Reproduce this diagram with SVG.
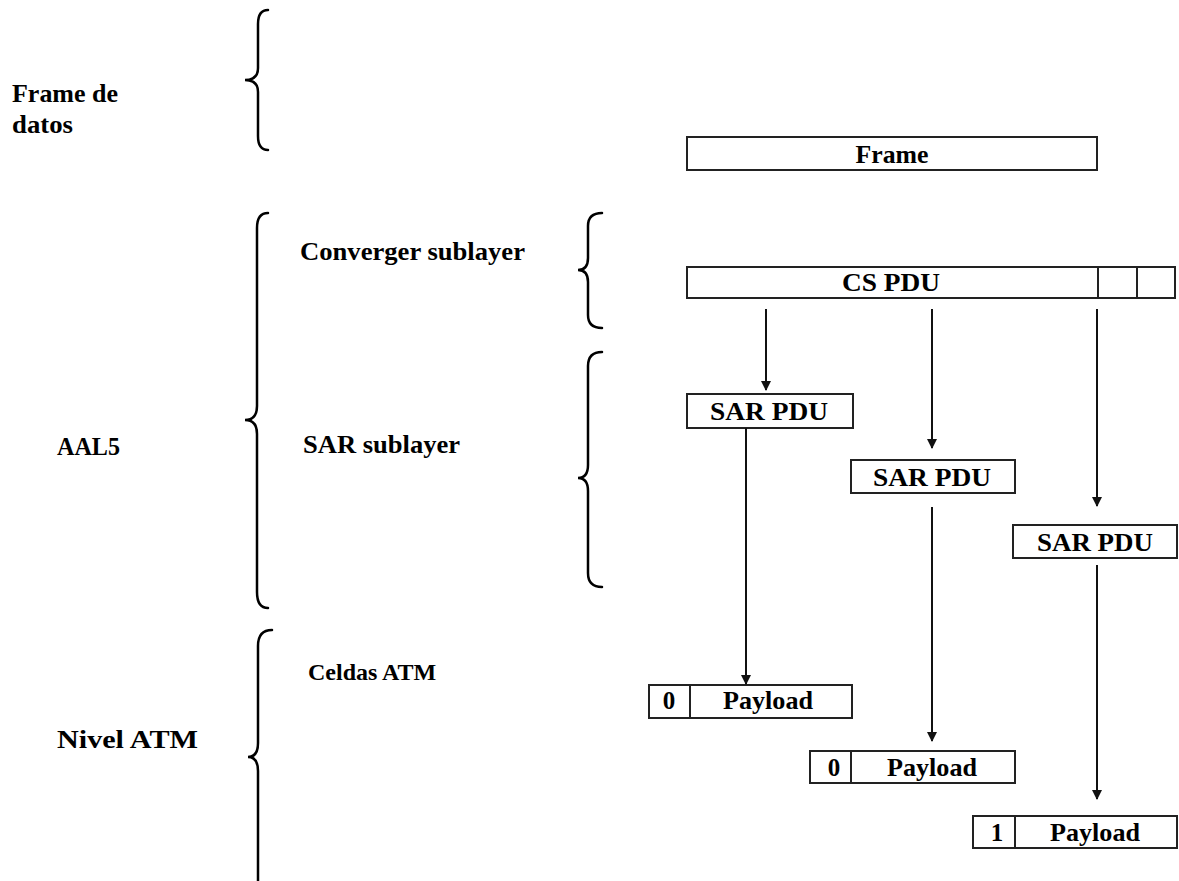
<svg xmlns="http://www.w3.org/2000/svg" width="1179" height="881" viewBox="0 0 1179 881">
<style>
text{font-family:"Liberation Serif","DejaVu Serif",serif;font-weight:bold;font-size:25px;fill:#000}
.box{fill:#fff;stroke:#222;stroke-width:2}
.div{stroke:#222;stroke-width:2}
.brace{fill:none;stroke:#000;stroke-width:2.5;stroke-linecap:round}
.conn{stroke:#111;stroke-width:2;fill:none;marker-end:url(#ah)}
</style>
<defs>
<marker id="ah" viewBox="0 0 10 10" refX="9" refY="5" markerWidth="5" markerHeight="5" orient="auto" markerUnits="strokeWidth">
<path d="M0,0 L10,5 L0,10 z" fill="#111"/>
</marker>
</defs>
<rect width="1179" height="881" fill="#fff"/>
<g id="labels">
<text x="12" y="102" textLength="106" lengthAdjust="spacingAndGlyphs">Frame de</text>
<text x="12" y="133" textLength="61" lengthAdjust="spacingAndGlyphs">datos</text>
<text x="300" y="260" textLength="225" lengthAdjust="spacingAndGlyphs">Converger sublayer</text>
<text x="303" y="453" textLength="157" lengthAdjust="spacingAndGlyphs">SAR sublayer</text>
<text x="57" y="455" textLength="63" lengthAdjust="spacingAndGlyphs">AAL5</text>
<text x="57" y="748" textLength="141" lengthAdjust="spacingAndGlyphs">Nivel  ATM</text>
<text x="308" y="680" style="font-size:24px">Celdas ATM</text>
</g>
<g id="braces">
<path class="brace" d="M268,10 Q258,10 258,24 L258,68 Q258,80 245,80 Q258,80 258,92 L258,136 Q258,150 268,150"/>
<path class="brace" d="M268,213 Q257,213 257,228 L257,406 Q257,420 245,420 Q257,420 257,434 L257,592 Q257,608 268,608"/>
<path class="brace" d="M272,630 Q258,630 258,646 L258,743 Q258,757 248,757 Q258,757 258,771 L258,882"/>
<path class="brace" d="M602,213 Q588,213 588,226 L588,258 Q588,270 578,270 Q588,270 588,282 L588,315 Q588,328 602,328"/>
<path class="brace" d="M602,352 Q588,352 588,366 L588,465 Q588,478 578,478 Q588,478 588,491 L588,573 Q588,587 602,587"/>
</g>
<g id="frame">
<rect class="box" x="687" y="137" width="410" height="33"/>
<text x="892" y="163" text-anchor="middle" textLength="73" lengthAdjust="spacingAndGlyphs">Frame</text>
</g>
<g id="cspdu">
<rect class="box" x="687" y="267" width="488" height="31"/>
<line class="div" x1="1098" y1="267" x2="1098" y2="298"/>
<line class="div" x1="1137" y1="267" x2="1137" y2="298"/>
<text x="891" y="291" text-anchor="middle" textLength="98" lengthAdjust="spacingAndGlyphs">CS PDU</text>
</g>
<g id="sar1">
<rect class="box" x="687" y="394" width="166" height="34"/>
<text x="769" y="420" text-anchor="middle" textLength="118" lengthAdjust="spacingAndGlyphs">SAR PDU</text>
</g>
<g id="sar2">
<rect class="box" x="851" y="460" width="164" height="33"/>
<text x="932" y="486" text-anchor="middle" textLength="118" lengthAdjust="spacingAndGlyphs">SAR PDU</text>
</g>
<g id="sar3">
<rect class="box" x="1013" y="525" width="164" height="33"/>
<text x="1095" y="551" text-anchor="middle" textLength="116" lengthAdjust="spacingAndGlyphs">SAR PDU</text>
</g>
<g id="cell1">
<rect class="box" x="649" y="685" width="203" height="33"/>
<line class="div" x1="690" y1="685" x2="690" y2="718"/>
<text x="669" y="709" text-anchor="middle">0</text>
<text x="768" y="709" text-anchor="middle" textLength="90" lengthAdjust="spacingAndGlyphs">Payload</text>
</g>
<g id="cell2">
<rect class="box" x="810" y="751" width="205" height="32"/>
<line class="div" x1="851" y1="751" x2="851" y2="783"/>
<text x="834" y="776" text-anchor="middle">0</text>
<text x="932" y="776" text-anchor="middle" textLength="90" lengthAdjust="spacingAndGlyphs">Payload</text>
</g>
<g id="cell3">
<rect class="box" x="973" y="816" width="204" height="32"/>
<line class="div" x1="1015" y1="816" x2="1015" y2="848"/>
<text x="997" y="841" text-anchor="middle">1</text>
<text x="1095" y="841" text-anchor="middle" textLength="90" lengthAdjust="spacingAndGlyphs">Payload</text>
</g>
<g id="connectors">
<line class="conn" x1="766" y1="309" x2="766" y2="390"/>
<line class="conn" x1="932" y1="309" x2="932" y2="448"/>
<line class="conn" x1="1097" y1="309" x2="1097" y2="506"/>
<line class="conn" x1="746" y1="428" x2="746" y2="684"/>
<line class="conn" x1="932" y1="507" x2="932" y2="741"/>
<line class="conn" x1="1097" y1="565" x2="1097" y2="799"/>
</g>
</svg>
